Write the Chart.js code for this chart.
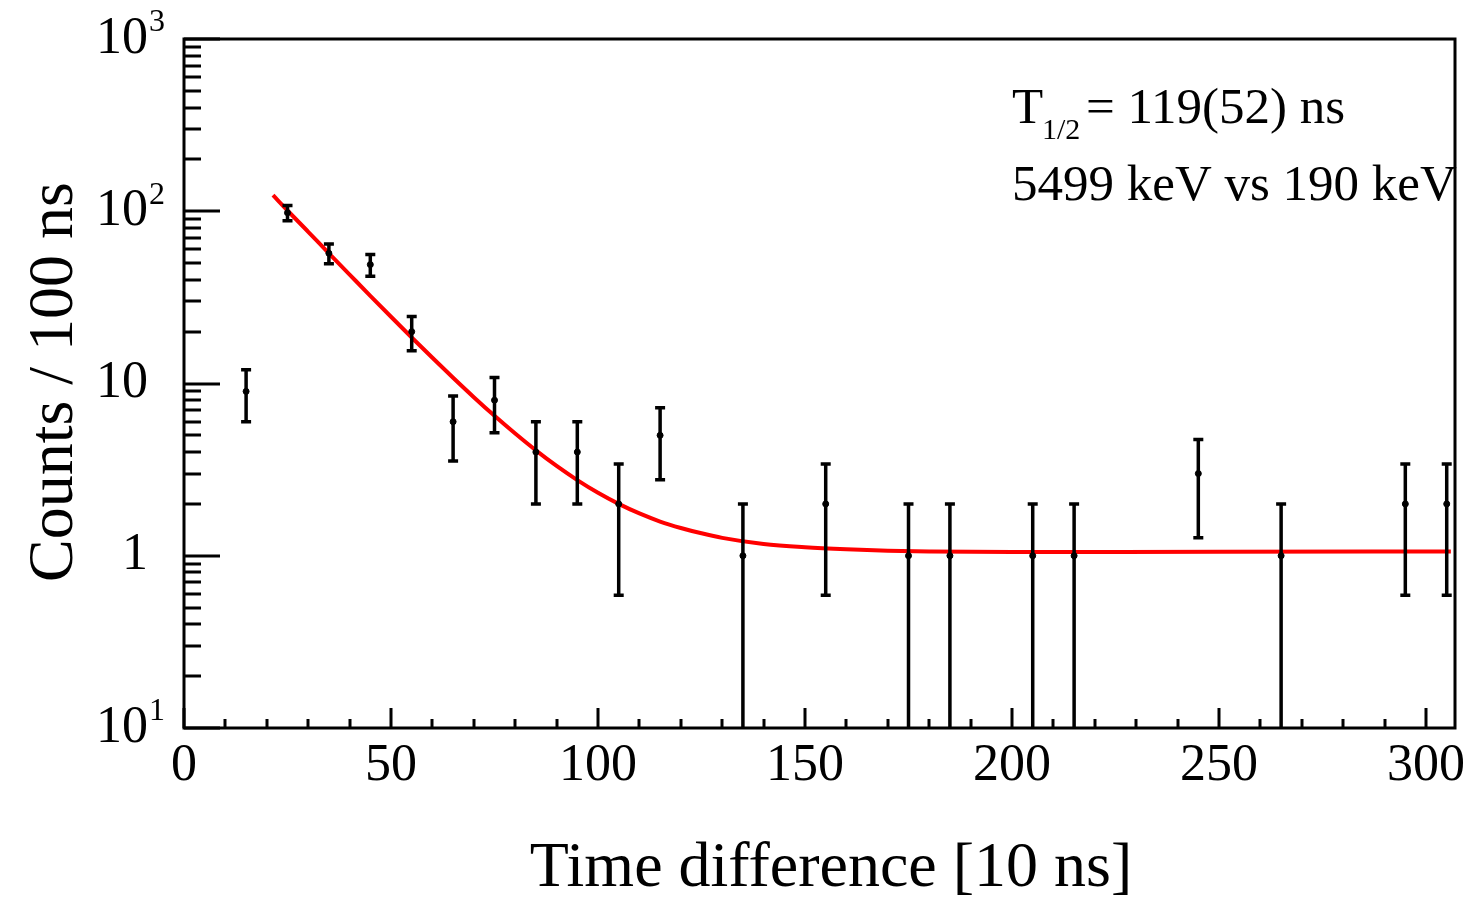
<!DOCTYPE html>
<html>
<head>
<meta charset="utf-8">
<script src="https://cdn.jsdelivr.net/npm/chart.js@4/dist/chart.umd.min.js"></script>
<style>
  html, body { margin: 0; padding: 0; background: #fff; }
  #wrap { width: 1476px; height: 901px; }
</style>
</head>
<body>
<div id="wrap"><canvas id="decayChart" width="1476" height="901"></canvas></div>
<script>
// measured bins (time difference in 10 ns units) and counts
var binCenters = [15, 25, 35, 45, 55, 65, 75, 85, 95, 105, 115, 135, 155, 175, 185, 205, 215, 245, 265, 295, 305];
var counts     = [9, 98, 57, 49, 20, 6, 8, 4, 4, 2, 5, 1, 2, 1, 1, 1, 1, 3, 1, 2, 2];
var countErr   = [3.0, 9.9, 7.5, 7.0, 4.5, 2.45, 2.83, 2.0, 2.0, 1.41, 2.24, 1.0, 1.41, 1.0, 1.0, 1.0, 1.0, 1.73, 1.0, 1.41, 1.41];

// fitted decay curve
var fitX = [21.5, 25, 30, 35, 40, 45, 50, 55, 60, 65, 70, 75, 80, 85, 90, 95, 100, 105, 110, 115, 120, 125, 130, 140, 150, 160, 170, 180, 200, 250, 306];
var fitY = [124, 101, 76, 57, 42.9, 32.3, 24.4, 18.5, 14.1, 10.8, 8.33, 6.49, 5.12, 4.09, 3.32, 2.75, 2.32, 2.0, 1.76, 1.58, 1.45, 1.35, 1.27, 1.17, 1.12, 1.09, 1.07, 1.06, 1.05, 1.055, 1.06];

// axis ticks
var xTickValues = [0, 50, 100, 150, 200, 250, 300];
var yTickValues = [0.1, 1, 10, 100, 1000];
var yTickBase   = ['10', '1', '10', '10', '10'];
var yTickSup    = ['1', '', '', '2', '3'];

var FONT = '"Liberation Serif", "Times New Roman", serif';

var pointData = [];
for (var i = 0; i < binCenters.length; i++) {
    pointData.push({x: binCenters[i], y: counts[i]});
}
var fitData = [];
for (var j = 0; j < fitX.length; j++) {
    fitData.push({x: fitX[j], y: fitY[j]});
}

var rootPlugin = {
    id: 'rootStyle',
    afterDatasetsDraw: function(chart) {
        var ctx = chart.ctx, xs = chart.scales.x, ys = chart.scales.y, a = chart.chartArea;
        // error bars
        ctx.save();
        ctx.beginPath();
        ctx.rect(a.left, a.top, a.right - a.left, a.bottom - a.top);
        ctx.clip();
        ctx.strokeStyle = '#000';
        ctx.lineWidth = 3.5;
        for (var i = 0; i < binCenters.length; i++) {
            var px = xs.getPixelForValue(binCenters[i]);
            var lo = counts[i] - countErr[i];
            var yHi = ys.getPixelForValue(counts[i] + countErr[i]);
            var yLo = lo > 0.001 ? ys.getPixelForValue(lo) : a.bottom + 10;
            ctx.beginPath();
            ctx.moveTo(px, yHi); ctx.lineTo(px, yLo);
            ctx.moveTo(px - 5, yHi); ctx.lineTo(px + 5, yHi);
            if (lo > 0.001) { ctx.moveTo(px - 5, yLo); ctx.lineTo(px + 5, yLo); }
            ctx.stroke();
        }
        ctx.restore();
    },
    afterDraw: function(chart) {
        var ctx = chart.ctx, xs = chart.scales.x, ys = chart.scales.y, a = chart.chartArea;
        ctx.save();
        ctx.strokeStyle = '#000';
        ctx.fillStyle = '#000';

        // y ticks (log, inside)
        ctx.lineWidth = 3;
        ctx.beginPath();
        for (var d = 0.1; d < 1000; d *= 10) {
            for (var m = 2; m <= 9; m++) {
                var yy = Math.round(ys.getPixelForValue(m * d));
                ctx.moveTo(a.left, yy); ctx.lineTo(a.left + 17, yy);
            }
        }
        for (var k = 0; k < yTickValues.length; k++) {
            var ym = Math.round(ys.getPixelForValue(yTickValues[k]));
            ctx.moveTo(a.left, ym); ctx.lineTo(a.left + 36, ym);
        }
        // x ticks (inside, from bottom)
        for (var t = 0; t <= 300; t += 10) {
            var xx = Math.round(xs.getPixelForValue(t));
            var len = (t % 50 === 0) ? 20 : 9;
            ctx.moveTo(xx, a.bottom); ctx.lineTo(xx, a.bottom - len);
        }
        ctx.stroke();

        // frame
        ctx.lineWidth = 3;
        ctx.strokeRect(a.left, a.top, a.right - a.left, a.bottom - a.top);

        // x tick labels
        ctx.font = '52px ' + FONT;
        ctx.textAlign = 'center';
        ctx.textBaseline = 'middle';
        xTickValues.forEach(function(v) {
            ctx.fillText(String(v), xs.getPixelForValue(v), 766);
        });

        // y tick labels with superscripts
        for (var n = 0; n < yTickValues.length; n++) {
            var yc = ys.getPixelForValue(yTickValues[n]);
            ctx.font = '52px ' + FONT;
            ctx.textAlign = 'right';
            ctx.textBaseline = 'middle';
            ctx.fillText(yTickBase[n], 148, yc);
            if (yTickSup[n]) {
                ctx.font = '32px ' + FONT;
                ctx.textAlign = 'left';
                ctx.fillText(yTickSup[n], 149, yc - 16);
            }
        }

        // axis titles
        ctx.font = '64px ' + FONT;
        ctx.textAlign = 'center';
        ctx.textBaseline = 'alphabetic';
        ctx.fillText('Time difference [10 ns]', 831, 886);
        ctx.save();
        ctx.translate(72, 382);
        ctx.rotate(-Math.PI / 2);
        ctx.fillText('Counts / 100 ns', 0, 0);
        ctx.restore();

        // annotation
        ctx.textAlign = 'left';
        ctx.font = '51px ' + FONT;
        ctx.fillText('T', 1012, 123);
        ctx.font = '30px ' + FONT;
        ctx.fillText('1/2', 1042, 139);
        ctx.font = '51px ' + FONT;
        ctx.fillText('= 119(52) ns', 1086, 123);
        ctx.fillText('5499 keV vs 190 keV', 1012, 200);
        ctx.restore();
    }
};

var ctx1 = document.getElementById('decayChart').getContext('2d');
var myChart = new Chart(ctx1, {
    type: 'scatter',
    data: {
        datasets: [
            {
                label: 'data',
                data: pointData,
                backgroundColor: '#000',
                borderColor: '#000',
                pointRadius: 3,
                showLine: false
            },
            {
                label: 'fit',
                data: fitData,
                borderColor: '#ff0000',
                backgroundColor: '#ff0000',
                borderWidth: 4,
                pointRadius: 0,
                showLine: true,
                cubicInterpolationMode: 'monotone'
            }
        ]
    },
    options: {
        responsive: false,
        animation: false,
        layout: { padding: { left: 184, right: 21, top: 39, bottom: 173 } },
        plugins: { legend: { display: false }, tooltip: { enabled: false } },
        scales: {
            x: { type: 'linear', min: 0, max: 307, display: false },
            y: { type: 'logarithmic', min: 0.1, max: 1000, display: false }
        }
    },
    plugins: [rootPlugin]
});
</script>
</body>
</html>
